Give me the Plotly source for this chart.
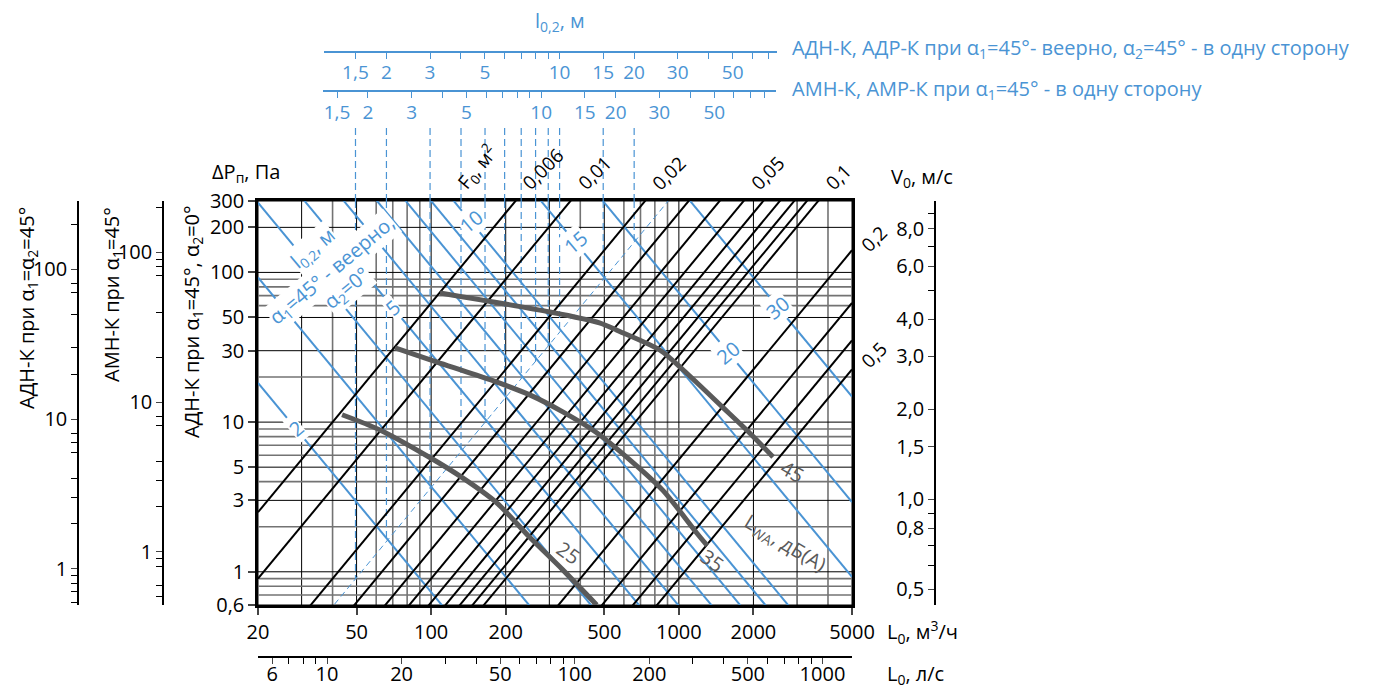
import numpy as np
import plotly.graph_objects as go

W, H = 1378, 689
FONT = "Open Sans"
BLUE = "#4a94d4"
GREY_CURVE = "#5a5a5a"
GRID_GREY = "#737373"


def px_x(x):
    return x / W


def px_y(y):
    return 1 - y / H


# ---------------- data ----------------
L_RANGE = [20, 5000]            # L0, m3/h (main x axis)
DP_RANGE = [0.6, 300]           # dP, Pa (main y axis)
L_TICKS = [20, 50, 100, 200, 500, 1000, 2000, 5000]
DP_TICKS = [0.6, 1, 3, 5, 10, 30, 50, 100, 200, 300]
DP_TICK_TEXT = ["0,6", "1", "3", "5", "10", "30", "50", "100", "200", "300"]

GRID_L_BLACK = [20, 30, 50, 100, 200, 300, 500, 1000, 2000, 3000, 5000]
GRID_L_GREY = [40, 60, 70, 80, 90, 400, 600, 700, 800, 900, 4000]
GRID_DP_BLACK = [0.6, 1, 3, 5, 10, 30, 50, 100, 200, 300]
GRID_DP_GREY = [0.7, 0.8, 0.9, 2, 4, 6, 7, 8, 9, 20, 60, 70, 80, 90]

# free area lines F0, m2 :  dP = F0_COEF * (L / F0)^2
F0_VALUES = [0.006, 0.01, 0.02, 0.03, 0.04, 0.05, 0.06, 0.07, 0.08, 0.09, 0.1,
             0.2, 0.3, 0.4, 0.5]
F0_COEF = 2.25e-7
F0_TOP_LABELS = [0.006, 0.01, 0.02, 0.05, 0.1]
F0_TOP_TEXT = ["0,006", "0,01", "0,02", "0,05", "0,1"]
F0_RIGHT_LABELS = [0.2, 0.5]
F0_RIGHT_TEXT = ["0,2", "0,5"]
F0_RIGHT_SHIFT = [11, 14]

# jet throw lines l0,2, m :  dP = L02_COEF * l^4 / L^2
L02_VALUES = [2, 3, 4, 5, 6, 7, 8, 9, 10, 15, 20, 30]
L02_COEF = 457.0
L02_LABELS = [2, 5, 10, 15, 20, 30]
L02_LABEL_AT_L = [28.5, 70, 145, 381, 1588, 2513]

# reference (dashed) line and vertical projection lines from the upper l0,2 scale
REF_F0 = 0.0248
L02_DASH_VALUES = [1.5, 2, 3, 4, 5, 6, 7, 8, 9, 10, 15, 20]
L02_TO_L = 33.0

# sound power curves LwA, dB(A)
SND25_L = [43.7, 62.1, 98.8, 134, 184, 250, 340, 466]
SND25_DP = [11.2, 8.86, 5.8, 4.24, 2.89, 1.70, 1.03, 0.6]
SND35_L = [71.5, 105.6, 173, 250, 340, 466, 634, 862, 1183, 1300]
SND35_DP = [31.3, 25.2, 19.2, 15.2, 11.7, 8.5, 5.6, 3.5, 1.81, 1.50]
SND45_L = [108.6, 302, 478, 562, 840, 1044, 1508, 1940, 2400]
SND45_DP = [72.9, 54.4, 46.0, 41.1, 30.2, 22.2, 12.5, 8.4, 5.85]
SND_LABELS = ["25", "35", "45"]
SND_LABEL_L = [357, 1366, 2872]
SND_LABEL_DP = [1.34, 1.19, 4.67]
SND_LABEL_ANGLE = [35, 35, 30]

# secondary scales
LS_FACTOR = 3.8   # alignment of the l/s scale with the m3/h scale as drawn
LS_LABELED = [6, 10, 20, 50, 100, 200, 500, 1000]
LS_MINOR = [7, 8, 9, 30, 40, 60, 70, 80, 90, 300, 400, 600, 700, 800, 900]

TOP1_RANGE = [1.12, 75.5]
TOP2_RANGE = [1.317, 88.7]
TOP_LABELED = [1.5, 2, 3, 5, 10, 15, 20, 30, 50]
TOP_LABEL_TEXT = ["1,5", "2", "3", "5", "10", "15", "20", "30", "50"]
TOP1_MINOR = [4, 6, 7, 8, 9, 40, 60, 70]
TOP2_MINOR = [4, 6, 7, 8, 9, 40, 60, 70, 80]

AX1_FACTOR = 1.047   # АДН-К при α1=α2=45°
AX1_MINOR = [0.6, 0.7, 0.8, 0.9, 2, 3, 4, 6, 7, 8, 20, 30, 50, 70, 80, 200]
AX2_FACTOR = 1.36    # АМН-К при α1=45°
AX2_MINOR = [0.5, 0.6, 0.8, 0.9, 2, 3, 4, 7, 8, 20, 40, 70, 80, 90, 200]
AX_LABELED = [1, 10, 100]

V_COEF = 3.05        # dP = V_COEF * V0^2
V_LABELED = [0.5, 0.8, 1, 1.5, 2, 3, 4, 6, 8]
V_TEXT = ["0,5", "0,8", "1,0", "1,5", "2,0", "3,0", "4,0", "6,0", "8,0"]
V_MINOR = [0.6, 0.7, 0.9, 5, 7, 9]

# ---------------- figure ----------------
fig = go.Figure()
Lline = np.array(L_RANGE, dtype=float)

for l in L02_VALUES:
    fig.add_trace(go.Scatter(x=Lline, y=L02_COEF * l ** 4 / Lline ** 2, mode="lines",
                             line=dict(color=BLUE, width=2), hoverinfo="skip"))

fig.add_trace(go.Scatter(x=Lline, y=F0_COEF * (Lline / REF_F0) ** 2, mode="lines",
                         line=dict(color=BLUE, width=1, dash="6px,4px"), hoverinfo="skip"))

for v in L02_DASH_VALUES:
    Lv = L02_TO_L * v
    fig.add_trace(go.Scatter(x=[Lv, Lv], y=[DP_RANGE[1], F0_COEF * (Lv / REF_F0) ** 2],
                             mode="lines", line=dict(color=BLUE, width=1.2, dash="7px,4px"),
                             hoverinfo="skip"))

for f0 in F0_VALUES:
    fig.add_trace(go.Scatter(x=Lline, y=F0_COEF * (Lline / f0) ** 2, mode="lines",
                             line=dict(color="black", width=2), hoverinfo="skip"))

for xs, ys in [(SND25_L, SND25_DP), (SND35_L, SND35_DP), (SND45_L, SND45_DP)]:
    fig.add_trace(go.Scatter(x=xs, y=ys, mode="lines", line=dict(color=GREY_CURVE, width=5,
                             shape="spline", smoothing=0.8), hoverinfo="skip"))

# dummy traces for auxiliary axes
fig.add_trace(go.Scatter(x=[], y=[], xaxis="x2", yaxis="y"))
fig.add_trace(go.Scatter(x=[], y=[], xaxis="x3", yaxis="y6"))
fig.add_trace(go.Scatter(x=[], y=[], xaxis="x4", yaxis="y7"))
fig.add_trace(go.Scatter(x=[], y=[], xaxis="x", yaxis="y2"))
fig.add_trace(go.Scatter(x=[], y=[], xaxis="x", yaxis="y3"))
fig.add_trace(go.Scatter(x=[], y=[], xaxis="x", yaxis="y4"))

# grid shapes
shapes = []
for v in GRID_L_GREY:
    shapes.append(dict(type="line", xref="x", yref="y domain", x0=v, x1=v, y0=0, y1=1,
                       line=dict(color=GRID_GREY, width=1.6), layer="below"))
for v in GRID_L_BLACK:
    shapes.append(dict(type="line", xref="x", yref="y domain", x0=v, x1=v, y0=0, y1=1,
                       line=dict(color="black", width=1), layer="below"))
for v in GRID_DP_GREY:
    shapes.append(dict(type="line", xref="x domain", yref="y", x0=0, x1=1, y0=v, y1=v,
                       line=dict(color=GRID_GREY, width=1.6), layer="below"))
for v in GRID_DP_BLACK:
    shapes.append(dict(type="line", xref="x domain", yref="y", x0=0, x1=1, y0=v, y1=v,
                       line=dict(color="black", width=1), layer="below"))
for v in L02_DASH_VALUES:
    Lv = L02_TO_L * v
    shapes.append(dict(type="line", xref="x", yref="paper", x0=Lv, x1=Lv,
                       y0=px_y(201), y1=px_y(125),
                       line=dict(color=BLUE, width=1.2, dash="7px,4px")))

ann = []


def text(x, y, s, size=19, color="black", angle=0, xanchor="center", yanchor="middle",
         xref="paper", yref="paper", bg=None, yshift=0):
    d = dict(x=x, y=y, text=s, xref=xref, yref=yref, showarrow=False, textangle=angle,
             xanchor=xanchor, yanchor=yanchor, font=dict(family=FONT, size=size, color=color),
             yshift=yshift, borderpad=0)
    if bg:
        d["bgcolor"] = bg
    ann.append(d)


# titles of the upper scales
text(px_x(560), px_y(21), "l<sub>0,2</sub>, м", size=20, color=BLUE)
text(px_x(791), px_y(48), "АДН-К, АДР-К при α<sub>1</sub>=45°- веерно, α<sub>2</sub>=45° - в одну сторону",
     size=20, color=BLUE, xanchor="left")
text(px_x(791), px_y(89), "АМН-К, АМР-К при α<sub>1</sub>=45° - в одну сторону",
     size=20, color=BLUE, xanchor="left")

# F0 labels
text(px_x(449), px_y(197), "F<sub>0</sub>, м<sup>2</sup>", angle=-50, xanchor="left", yanchor="bottom")
for f0, s in zip(F0_TOP_LABELS, F0_TOP_TEXT):
    Ltop = f0 * np.sqrt(DP_RANGE[1] / F0_COEF)
    text(np.log10(Ltop), px_y(197), s, angle=-45, xanchor="left", yanchor="bottom", xref="x")
for f0, s, sh in zip(F0_RIGHT_LABELS, F0_RIGHT_TEXT, F0_RIGHT_SHIFT):
    dp = F0_COEF * (L_RANGE[1] / f0) ** 2
    text(px_x(874), np.log10(dp), s, angle=-45, yref="y", yshift=sh)

# axis titles
text(px_x(211), px_y(172), "ΔP<sub>п</sub>, Па", size=20, xanchor="left")
text(px_x(890), px_y(177), "V<sub>0</sub>, м/с", size=20, xanchor="left")
text(px_x(886), px_y(632), "L<sub>0</sub>, м<sup>3</sup>/ч", size=20, xanchor="left")
text(px_x(886), px_y(674), "L<sub>0</sub>, л/с", size=20, xanchor="left")
text(px_x(27), px_y(308), "АДН-К при α<sub>1</sub>=α<sub>2</sub>=45°", size=20, angle=-90)
text(px_x(112), px_y(295), "АМН-К при α<sub>1</sub>=45°", size=20, angle=-90)
text(px_x(192), px_y(322), "АДН-К при α<sub>1</sub>=45°, α<sub>2</sub>=0°", size=20, angle=-90)

# l0,2 line labels
for l, Lp in zip(L02_LABELS, L02_LABEL_AT_L):
    dp = L02_COEF * l ** 4 / Lp ** 2
    text(np.log10(Lp), np.log10(dp), str(l), size=20, color=BLUE, angle=-40,
         xref="x", yref="y", bg="white")
text(px_x(313), px_y(248), "l<sub>0,2</sub>, м", size=20, color=BLUE, angle=-40, bg="white")
text(px_x(332), px_y(270), "α<sub>1</sub>=45° - веерно,", size=20, color=BLUE, angle=-40, bg="white")
text(px_x(347), px_y(288), "α<sub>2</sub>=0°", size=20, color=BLUE, angle=-40, bg="white")

# sound labels
for s, Lp, dp, a in zip(SND_LABELS, SND_LABEL_L, SND_LABEL_DP, SND_LABEL_ANGLE):
    text(np.log10(Lp), np.log10(dp), s, size=20, color=GREY_CURVE, angle=a, xref="x", yref="y")
text(px_x(785), px_y(543), "L<sub>WA</sub>, дБ(А)", size=20, color=GREY_CURVE, angle=31)

xd = [px_x(258), px_x(852)]
yd = [px_y(605), px_y(201)]
tickfont = dict(family=FONT, size=20, color="black")
bluefont = dict(family=FONT, size=19, color=BLUE)


def minor(vals, color="black"):
    return dict(tickvals=vals, ticks="outside", ticklen=6, tickwidth=1.3, tickcolor=color,
                showgrid=False)


fig.update_layout(
    width=W, height=H, margin=dict(l=0, r=0, t=0, b=0, autoexpand=False), showlegend=False,
    paper_bgcolor="white", plot_bgcolor="white", shapes=shapes, annotations=ann,
    xaxis=dict(domain=xd, type="log", range=[np.log10(L_RANGE[0]), np.log10(L_RANGE[1])],
               tickvals=L_TICKS, ticktext=[str(v) for v in L_TICKS], ticks="outside",
               ticklen=7, tickwidth=1.5, showline=True, linewidth=2.5, linecolor="black",
               mirror=True, showgrid=False, zeroline=False, tickfont=tickfont, anchor="y",
               automargin=False),
    yaxis=dict(domain=yd, type="log", range=[np.log10(DP_RANGE[0]), np.log10(DP_RANGE[1])],
               tickvals=DP_TICKS, ticktext=DP_TICK_TEXT, ticks="outside", ticklen=7,
               tickwidth=1.5, showline=True, linewidth=2.5, linecolor="black", mirror=True,
               showgrid=False, zeroline=False, tickfont=tickfont, anchor="x", automargin=False),
    xaxis2=dict(overlaying="x", anchor="free", position=px_y(657), side="bottom", type="log",
                range=[np.log10(L_RANGE[0] / LS_FACTOR), np.log10(L_RANGE[1] / LS_FACTOR)],
                tickvals=LS_LABELED, ticktext=[str(v) for v in LS_LABELED],
                minor=minor(LS_MINOR), automargin=False, ticklabelstandoff=-7,
                ticks="outside", ticklen=6, tickwidth=1.3, showline=True, linewidth=1.5,
                linecolor="black", showgrid=False, zeroline=False, tickfont=tickfont),
    xaxis3=dict(domain=[px_x(324), px_x(777)], anchor="y6", side="bottom", type="log",
                range=[np.log10(TOP1_RANGE[0]), np.log10(TOP1_RANGE[1])], tickvals=TOP_LABELED,
                ticktext=TOP_LABEL_TEXT, minor=minor(TOP1_MINOR, BLUE), ticks="outside",
                ticklen=6, tickwidth=1.3, tickcolor=BLUE, showline=True, linewidth=1.5,
                linecolor=BLUE, showgrid=False, zeroline=False, tickfont=bluefont,
                automargin=False, ticklabelstandoff=-3),
    yaxis6=dict(domain=[px_y(51), px_y(40)], visible=False, anchor="x3"),
    xaxis4=dict(domain=[px_x(323), px_x(776)], anchor="y7", side="bottom", type="log",
                range=[np.log10(TOP2_RANGE[0]), np.log10(TOP2_RANGE[1])], tickvals=TOP_LABELED,
                ticktext=TOP_LABEL_TEXT, minor=minor(TOP2_MINOR, BLUE), ticks="outside",
                ticklen=6, tickwidth=1.3, tickcolor=BLUE, showline=True, linewidth=1.5,
                linecolor=BLUE, showgrid=False, zeroline=False, tickfont=bluefont,
                automargin=False, ticklabelstandoff=-2),
    yaxis7=dict(domain=[px_y(90), px_y(80)], visible=False, anchor="x4"),
    yaxis2=dict(overlaying="y", anchor="free", position=px_x(78), side="left", type="log",
                range=[np.log10(DP_RANGE[0] / AX1_FACTOR), np.log10(DP_RANGE[1] / AX1_FACTOR)],
                tickvals=AX_LABELED, ticktext=[str(v) for v in AX_LABELED],
                minor=minor(AX1_MINOR), automargin=False,
                ticks="outside", ticklen=6, tickwidth=1.3, showline=True, linewidth=1.5,
                linecolor="black", showgrid=False, zeroline=False, tickfont=tickfont),
    yaxis3=dict(overlaying="y", anchor="free", position=px_x(163), side="left", type="log",
                range=[np.log10(DP_RANGE[0] / AX2_FACTOR), np.log10(DP_RANGE[1] / AX2_FACTOR)],
                tickvals=AX_LABELED, ticktext=[str(v) for v in AX_LABELED],
                minor=minor(AX2_MINOR), automargin=False,
                ticks="outside", ticklen=6, tickwidth=1.3, showline=True, linewidth=1.5,
                linecolor="black", showgrid=False, zeroline=False, tickfont=tickfont),
    yaxis4=dict(overlaying="y", anchor="free", position=px_x(935), side="left", type="log",
                range=[0.5 * np.log10(DP_RANGE[0] / V_COEF), 0.5 * np.log10(DP_RANGE[1] / V_COEF)],
                tickvals=V_LABELED, ticktext=V_TEXT, minor=minor(V_MINOR), automargin=False,
                ticks="outside", ticklen=6, tickwidth=1.3,
                showline=True, linewidth=1.5, linecolor="black", showgrid=False,
                zeroline=False, tickfont=tickfont),
)

fig.write_html("out.html", config={"displayModeBar": False},
               post_script="document.body.style.margin='0px';")
